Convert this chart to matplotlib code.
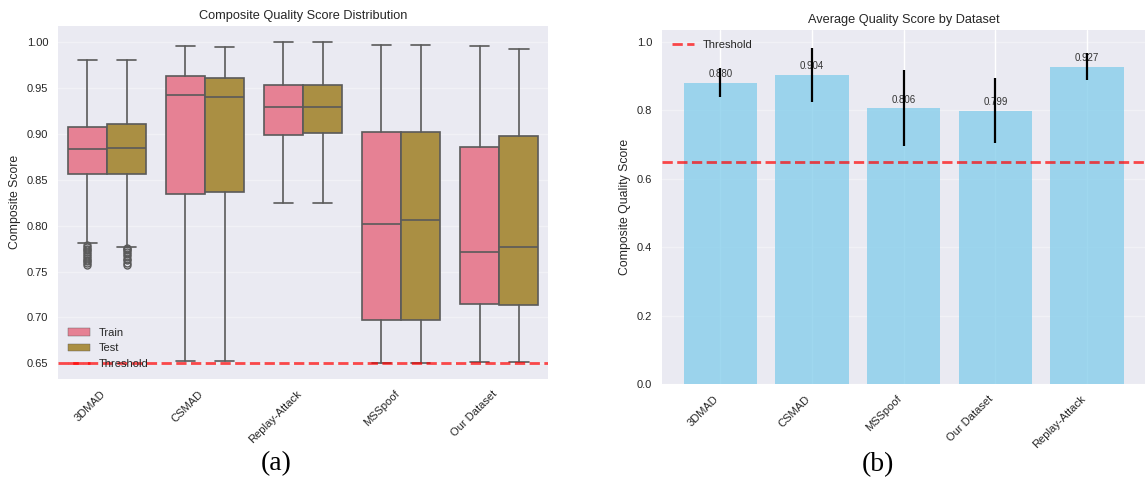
import matplotlib
matplotlib.use("Agg")
import matplotlib.pyplot as plt
from matplotlib.patches import Patch
from matplotlib.lines import Line2D

plt.style.use("seaborn-v0_8")
plt.rcParams["font.family"] = ["Liberation Sans", "DejaVu Sans"]

# ---- data ----
box_datasets = ["3DMAD", "CSMAD", "Replay-Attack", "MSSpoof", "Our Dataset"]
splits = ["Train", "Test"]

# per split: lists over box_datasets
train_whislo = [0.781, 0.653, 0.825, 0.650, 0.652]
train_q1 = [0.856, 0.834, 0.899, 0.697, 0.715]
train_med = [0.883, 0.942, 0.929, 0.802, 0.771]
train_q3 = [0.907, 0.963, 0.953, 0.902, 0.886]
train_whishi = [0.980, 0.995, 0.9996, 0.996, 0.995]

test_whislo = [0.777, 0.653, 0.825, 0.650, 0.652]
test_q1 = [0.856, 0.837, 0.901, 0.697, 0.714]
test_med = [0.884, 0.940, 0.929, 0.806, 0.777]
test_q3 = [0.910, 0.961, 0.953, 0.902, 0.898]
test_whishi = [0.980, 0.994, 0.9996, 0.996, 0.992]

train_fliers_3dmad = [0.757, 0.759, 0.761, 0.763, 0.765, 0.767, 0.769,
                      0.771, 0.773, 0.775, 0.777, 0.779]
test_fliers_3dmad = [0.757, 0.759, 0.762, 0.764, 0.767, 0.769, 0.771,
                     0.773, 0.775, 0.776]

bar_datasets = ["3DMAD", "CSMAD", "MSSpoof", "Our Dataset", "Replay-Attack"]
bar_means = [0.880, 0.904, 0.806, 0.799, 0.927]
bar_stds = [0.042, 0.079, 0.110, 0.095, 0.039]

threshold = 0.65

train_color = "#E68194"
test_color = "#AA8F43"
line_gray = "#5a5a5a"


def make_stats(whislo, q1, med, q3, whishi, fliers):
    stats_ = []
    for i in range(len(med)):
        stats_.append(dict(whislo=whislo[i], q1=q1[i], med=med[i], q3=q3[i],
                           whishi=whishi[i], fliers=fliers[i]))
    return stats_


fig = plt.figure(figsize=(11.45, 4.8), dpi=100, facecolor="white")

# ---------------- (a) box plot ----------------
ax1 = fig.add_axes([0.0507, 0.2104, 0.428, 0.736])

train_stats = make_stats(train_whislo, train_q1, train_med, train_q3, train_whishi,
                         [train_fliers_3dmad, [], [], [], []])
test_stats = make_stats(test_whislo, test_q1, test_med, test_q3, test_whishi,
                        [test_fliers_3dmad, [], [], [], []])

for stats_, offset, color in [(train_stats, -0.2, train_color), (test_stats, 0.2, test_color)]:
    ax1.bxp(stats_, positions=[i + offset for i in range(len(box_datasets))],
            widths=0.4, patch_artist=True, showfliers=True,
            boxprops=dict(facecolor=color, edgecolor=line_gray, linewidth=1.2),
            medianprops=dict(color=line_gray, linewidth=1.2),
            whiskerprops=dict(color=line_gray, linewidth=1.2),
            capprops=dict(color=line_gray, linewidth=1.2),
            capwidths=0.2,
            flierprops=dict(marker="o", markerfacecolor="none", markeredgecolor=line_gray,
                            markersize=5, markeredgewidth=1.0))

ax1.axhline(threshold, color="red", linestyle="--", linewidth=2, alpha=0.7)
ax1.set_xlim(-0.5, 4.5)
ax1.set_ylim(0.633, 1.0175)
ax1.set_xticks(range(len(box_datasets)))
ax1.set_xticklabels(box_datasets, rotation=45, ha="right", fontsize=8)
ax1.set_yticks([0.65, 0.70, 0.75, 0.80, 0.85, 0.90, 0.95, 1.00])
ax1.set_yticklabels(["%.2f" % v for v in ax1.get_yticks()], fontsize=8)
ax1.xaxis.grid(False)
ax1.yaxis.grid(True, alpha=0.35)
ax1.set_ylabel("Composite Score", fontsize=8.8)
ax1.set_title("Composite Quality Score Distribution", fontsize=9.2, pad=5)

handles_ = [Patch(facecolor=train_color, edgecolor=line_gray, label=splits[0]),
            Patch(facecolor=test_color, edgecolor=line_gray, label=splits[1]),
            Line2D([0], [0], color="red", linestyle="--", linewidth=2, alpha=0.7, label="Threshold")]
ax1.legend(handles=handles_, loc="lower left", fontsize=8, frameon=False)

# ---------------- (b) bar chart ----------------
ax2 = fig.add_axes([0.578, 0.1994, 0.4227, 0.738])
bars_ = ax2.bar(bar_datasets, bar_means, yerr=bar_stds, color="skyblue", alpha=0.8,
                width=0.8, error_kw=dict(ecolor="black", elinewidth=1.6, capsize=0, zorder=4))
ax2.axhline(threshold, color="red", linestyle="--", linewidth=2, alpha=0.7, label="Threshold")

for b, m in zip(bars_, bar_means):
    ax2.text(b.get_x() + b.get_width() / 2, m + 0.01, "%.3f" % m, ha="center", va="bottom",
             fontsize=7, color="#333333", zorder=3)

ax2.set_ylim(0, 1.034)
ax2.set_xticks(range(len(bar_datasets)))
ax2.set_xticklabels(bar_datasets, rotation=45, ha="right", fontsize=8)
ax2.tick_params(axis="y", labelsize=8)
ax2.yaxis.grid(True, alpha=0.35)
ax2.xaxis.grid(True)
ax2.set_ylabel("Composite Quality Score", fontsize=8.8)
ax2.set_title("Average Quality Score by Dataset", fontsize=9.2, pad=5)
ax2.legend(loc="upper left", fontsize=8, frameon=False)

# captions
fig.text(276 / 1145, 1 - 464 / 480, "(a)", ha="center", va="center", fontsize=20,
         family=["Liberation Serif", "DejaVu Serif"], color="black")
fig.text(878 / 1145, 1 - 465 / 480, "(b)", ha="center", va="center", fontsize=20,
         family=["Liberation Serif", "DejaVu Serif"], color="black")

fig.savefig("out.png", dpi=100, facecolor="white")
